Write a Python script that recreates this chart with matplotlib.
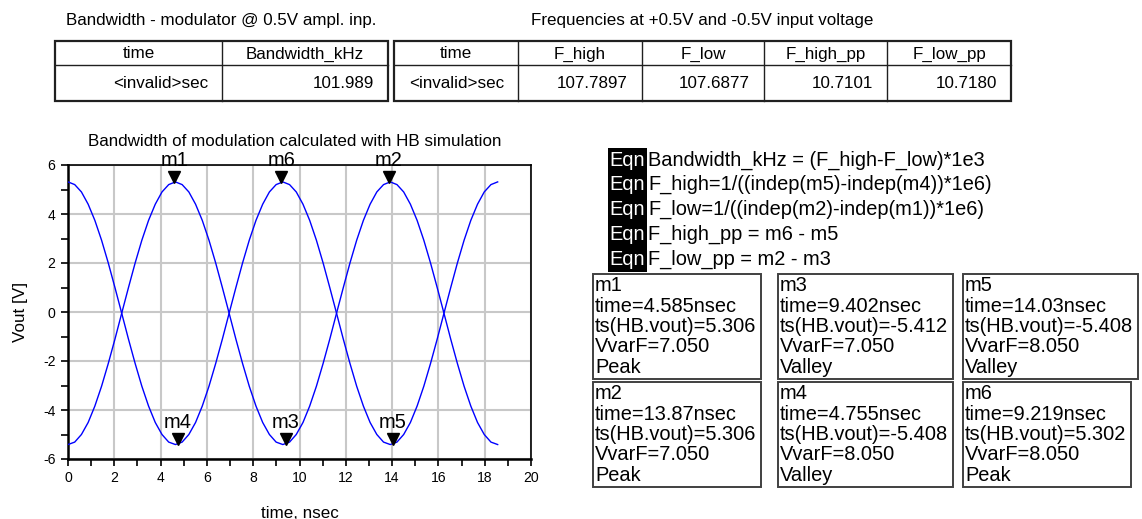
import matplotlib
matplotlib.use("Agg")
import matplotlib.pyplot as plt
from matplotlib.patches import Rectangle
from matplotlib.ticker import MultipleLocator
from matplotlib.transforms import offset_copy

plt.rcParams['font.family'] = ['Liberation Sans', 'DejaVu Sans']
plt.rcParams['axes.unicode_minus'] = False

# ---------------- data ----------------
time_ns = [0.00, 0.29, 0.58, 0.87, 1.16, 1.45, 1.74, 2.03, 2.32, 2.61, 2.90, 3.19, 3.48,
           3.77, 4.06, 4.35, 4.64, 4.93, 5.22, 5.51, 5.80, 6.09, 6.38, 6.67, 6.96, 7.25,
           7.54, 7.83, 8.12, 8.41, 8.70, 8.99, 9.28, 9.57, 9.86, 10.15, 10.44, 10.73,
           11.02, 11.31, 11.60, 11.89, 12.18, 12.47, 12.76, 13.05, 13.34, 13.63, 13.92,
           14.21, 14.50, 14.79, 15.08, 15.37, 15.66, 15.95, 16.24, 16.53, 16.82, 17.11,
           17.40, 17.69, 17.98, 18.27, 18.56]

vout_vvarf_7050 = [-5.41, -5.31, -5.00, -4.51, -3.84, -3.03, -2.10, -1.10, -0.05, 0.99, 2.00,
                   2.93, 3.74, 4.40, 4.90, 5.20, 5.31,
                   5.20, 4.90, 4.40, 3.74, 2.93, 2.00, 0.99, -0.05, -1.10, -2.10, -3.03,
                   -3.84, -4.51, -5.00, -5.31, -5.41,
                   -5.31, -5.00, -4.51, -3.84, -3.03, -2.10, -1.10, -0.05, 0.99, 2.00, 2.93,
                   3.74, 4.40, 4.90, 5.20, 5.31,
                   5.20, 4.90, 4.40, 3.74, 2.93, 2.00, 0.99, -0.05, -1.10, -2.10, -3.03,
                   -3.84, -4.51, -5.00, -5.31, -5.41]

vout_vvarf_8050 = [5.31, 5.20, 4.90, 4.40, 3.74, 2.93, 2.00, 0.99, -0.05, -1.10, -2.10, -3.03,
                   -3.84, -4.51, -5.00, -5.31, -5.41,
                   -5.31, -5.00, -4.51, -3.84, -3.03, -2.10, -1.10, -0.05, 0.99, 2.00, 2.93,
                   3.74, 4.40, 4.90, 5.20, 5.31,
                   5.20, 4.90, 4.40, 3.74, 2.93, 2.00, 0.99, -0.05, -1.10, -2.10, -3.03,
                   -3.84, -4.51, -5.00, -5.31, -5.41,
                   -5.31, -5.00, -4.51, -3.84, -3.03, -2.10, -1.10, -0.05, 0.99, 2.00, 2.93,
                   3.74, 4.40, 4.90, 5.20, 5.31]

marker_names = ["m1", "m2", "m3", "m4", "m5", "m6"]
marker_time = [4.585, 13.87, 9.402, 4.755, 14.03, 9.219]
marker_vout = [5.306, 5.306, -5.412, -5.408, -5.408, 5.302]
marker_vvarf = [7.050, 7.050, 7.050, 8.050, 8.050, 8.050]
marker_kind = ["Peak", "Peak", "Valley", "Valley", "Valley", "Peak"]

table1_title = "Bandwidth - modulator @ 0.5V ampl. inp."
table1_header = ["time", "Bandwidth_kHz"]
table1_values = ["<invalid>sec", "101.989"]

table2_title = "Frequencies at +0.5V and -0.5V input voltage"
table2_header = ["time", "F_high", "F_low", "F_high_pp", "F_low_pp"]
table2_values = ["<invalid>sec", "107.7897", "107.6877", "10.7101", "10.7180"]

equations = ["Bandwidth_kHz = (F_high-F_low)*1e3",
             "F_high=1/((indep(m5)-indep(m4))*1e6)",
             "F_low=1/((indep(m2)-indep(m1))*1e6)",
             "F_high_pp = m6 - m5",
             "F_low_pp = m2 - m3"]

chart_title = "Bandwidth of modulation calculated with HB simulation"
x_label = "time, nsec"
y_label = "Vout [V]"

# ---------------- figure ----------------
W, H, DPI = 1142, 519, 100
fig = plt.figure(figsize=(W / DPI, H / DPI), dpi=DPI)
fig.patch.set_facecolor("white")


def pt(px):
    return px * 72.0 / DPI


# main plot axes (pixel layout)
ax_l, ax_r, ax_t, ax_b = 68, 531, 165, 459
ax = fig.add_axes([ax_l / W, (H - ax_b) / H, (ax_r - ax_l) / W, (ax_b - ax_t) / H])
ax.plot(time_ns, vout_vvarf_8050, color="#0000ff", lw=1.0, zorder=3)
ax.plot(time_ns, vout_vvarf_7050, color="#0000ff", lw=1.0, zorder=3)
ax.set_xlim(0, 20)
ax.set_ylim(-6, 6)
ax.xaxis.set_major_locator(MultipleLocator(2))
ax.xaxis.set_minor_locator(MultipleLocator(1))
ax.yaxis.set_major_locator(MultipleLocator(2))
ax.yaxis.set_minor_locator(MultipleLocator(1))
ax.tick_params(which="both", direction="out", length=5, width=1.2, color="black",
               labelsize=pt(14), pad=4)
ax.grid(True, which="major", color="#c8c8c8", lw=1.5, zorder=0)
ax.set_axisbelow(True)
for side in ["left", "bottom"]:
    ax.spines[side].set_linewidth(1.8)
for side in ["top", "right"]:
    ax.spines[side].set_linewidth(1.2)

# markers
tri_tr = offset_copy(ax.transData, fig=fig, x=0, y=5.5, units="dots")
for name, t, v in zip(marker_names, marker_time, marker_vout):
    ax.plot([t], [v], marker="v", color="black", markersize=pt(12), transform=tri_tr,
            clip_on=False, zorder=5, linestyle="none")
    ax.annotate(name, (t, v), xytext=(0, pt(22)), textcoords="offset points",
                ha="center", va="center", fontsize=pt(20), annotation_clip=False, zorder=6)

# overlay in pixel coordinates
ov = fig.add_axes([0, 0, 1, 1], zorder=-1)
ov.set_xlim(0, W)
ov.set_ylim(H, 0)
ov.axis("off")

ov.text((ax_l + ax_r) / 2 - 5, 142, chart_title, ha="center", va="center", fontsize=pt(17))
ov.text(300, 513, x_label, ha="center", va="center", fontsize=pt(17))
ov.text(20, 312, y_label, ha="center", va="center", rotation=90, fontsize=pt(17))


def draw_table(edges, title, header, values):
    top, mid, bot = 41, 65, 101
    ov.text((edges[0] + edges[-1]) / 2, 20, title, ha="center", va="center", fontsize=pt(17))
    ov.add_patch(Rectangle((edges[0], top), edges[-1] - edges[0], bot - top, fill=False,
                           ec="#202020", lw=1.6))
    ov.plot([edges[0], edges[-1]], [mid, mid], color="#202020", lw=1.0)
    for x in edges[1:-1]:
        ov.plot([x, x], [top, bot], color="#202020", lw=1.0)
    for i, (h, v) in enumerate(zip(header, values)):
        ov.text((edges[i] + edges[i + 1]) / 2, 54, h, ha="center", va="center", fontsize=pt(17))
        ov.text(edges[i + 1] - 14, 84, v, ha="right", va="center", fontsize=pt(17))


draw_table([55, 222, 388], table1_title, table1_header, table1_values)
draw_table([394, 518, 642, 764, 887, 1011], table2_title, table2_header, table2_values)

# equations
ov.add_patch(Rectangle((608, 148), 39, 124, color="black", lw=0))
for i, eq in enumerate(equations):
    y = 160 + i * 24.8
    ov.text(627.5, y, "Eqn", color="white", ha="center", va="center", fontsize=pt(20))
    ov.text(648, y, eq, color="black", ha="left", va="center", fontsize=pt(20))

# marker readout boxes
box_layout = {"m1": (593, 274), "m3": (778, 274), "m5": (963, 274),
              "m2": (593, 382), "m4": (778, 382), "m6": (963, 382)}
renderer = fig.canvas.get_renderer()
for name, t, v, vv, kind in zip(marker_names, marker_time, marker_vout, marker_vvarf, marker_kind):
    x0, y0 = box_layout[name]
    lines = [name, f"time={t:.4g}nsec", f"ts(HB.vout)={v:.3f}", f"VvarF={vv:.3f}", kind]
    maxw = 0
    for j, ln in enumerate(lines):
        txt = ov.text(x0 + 2, y0 + 11.5 + j * 20.5, ln, ha="left", va="center", fontsize=pt(20))
        maxw = max(maxw, txt.get_window_extent(renderer).width)
    ov.add_patch(Rectangle((x0, y0), maxw + 7, 105, fill=False, ec="#404040", lw=1.4))

fig.savefig("out.png", dpi=DPI)
